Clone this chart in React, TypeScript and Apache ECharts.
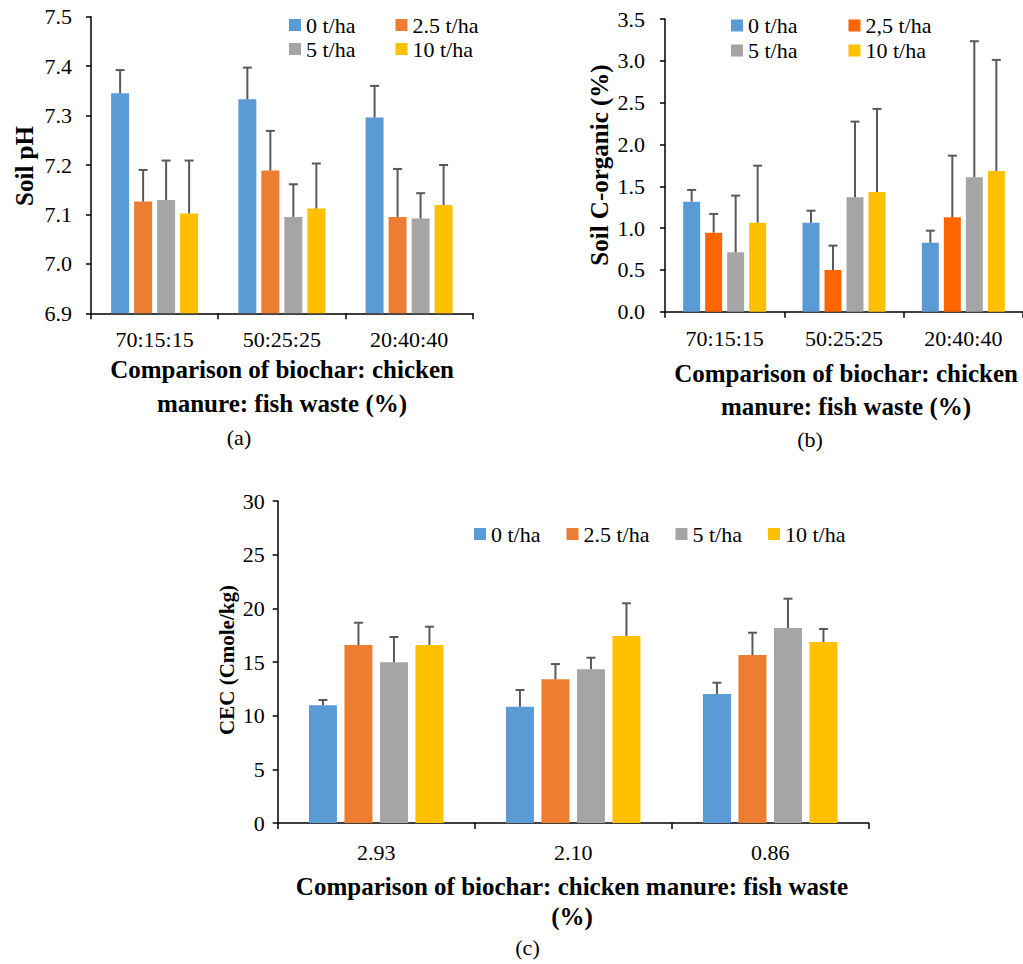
import React, { useEffect, useRef } from "react";
import * as echarts from "echarts";

// ---------- data ----------
const categoriesAB = ["70:15:15", "50:25:25", "20:40:40"];
const categoriesC = ["2.93", "2.10", "0.86"];

const seriesNamesA = ["0 t/ha", "2.5 t/ha", "5 t/ha", "10 t/ha"];
const seriesNamesB = ["0 t/ha", "2,5 t/ha", "5 t/ha", "10 t/ha"];
const seriesNamesC = ["0 t/ha", "2.5 t/ha", "5 t/ha", "10 t/ha"];

// (a) Soil pH
const ph0 = [7.345, 7.333, 7.296];
const ph25 = [7.126, 7.189, 7.095];
const ph5 = [7.129, 7.095, 7.092];
const ph10 = [7.102, 7.112, 7.119];
const ph0Err = [0.047, 0.064, 0.064];
const ph25Err = [0.064, 0.08, 0.097];
const ph5Err = [0.08, 0.066, 0.051];
const ph10Err = [0.107, 0.091, 0.081];

// (b) Soil C-organic (%)
const co0 = [1.316, 1.065, 0.825];
const co25 = [0.945, 0.499, 1.129];
const co5 = [0.71, 1.368, 1.608];
const co10 = [1.065, 1.432, 1.683];
const co0Err = [0.14, 0.143, 0.144];
const co25Err = [0.224, 0.291, 0.737];
const co5Err = [0.678, 0.905, 1.626];
const co10Err = [0.681, 0.993, 1.328];

// (c) CEC (Cmole/kg)
const cec0 = [10.96, 10.84, 12.02];
const cec25 = [16.58, 13.39, 15.65];
const cec5 = [14.97, 14.32, 18.17];
const cec10 = [16.58, 17.42, 16.86];
const cec0Err = [0.5, 1.55, 1.05];
const cec25Err = [2.08, 1.42, 2.08];
const cec5Err = [2.36, 1.08, 2.73];
const cec10Err = [1.71, 3.05, 1.22];

const colorsA = ["#5B9BD5", "#ED7D31", "#A5A5A5", "#FFC000"];
const colorsB = ["#5B9BD5", "#FF6600", "#A5A5A5", "#FFC000"];

const FONT = "Liberation Serif";

function buildPanel(
  idx: number,
  names: string[],
  colors: string[],
  means: number[][],
  errs: number[][],
  barW: number,
  gapPx: number
) {
  const series: any[] = [];
  means.forEach((m, k) => {
    series.push({
      type: "bar",
      name: names[k],
      xAxisIndex: idx,
      yAxisIndex: idx,
      data: m,
      barWidth: barW,
      barGap: (gapPx / barW) * 100 + "%",
      itemStyle: { color: colors[k] },
      emphasis: { disabled: true },
      z: 2,
    });
  });
  means.forEach((m, k) => {
    series.push({
      type: "custom",
      xAxisIndex: idx,
      yAxisIndex: idx,
      data: m.map((v, i) => [i, v, v + errs[k][i]]),
      z: 5,
      silent: true,
      renderItem: (params: any, api: any) => {
        const p0 = api.coord([api.value(0), api.value(1)]);
        const p1 = api.coord([api.value(0), api.value(2)]);
        const x = p0[0] + (k - 1.5) * (barW + gapPx);
        const st = { stroke: "#595959", lineWidth: 2 };
        return {
          type: "group",
          children: [
            { type: "line", shape: { x1: x, y1: p0[1], x2: x, y2: p1[1] }, style: st },
            { type: "line", shape: { x1: x - 4.5, y1: p1[1], x2: x + 4.5, y2: p1[1] }, style: st },
          ],
        };
      },
    });
  });
  return series;
}

function xAxisCfg(idx: number, data: string[], margin: number) {
  return {
    type: "category",
    gridIndex: idx,
    data,
    boundaryGap: true,
    axisLine: { onZero: false, lineStyle: { color: "#000", width: 1.5 } },
    axisTick: { show: true, alignWithLabel: false, length: 6, lineStyle: { color: "#000", width: 1.5 } },
    axisLabel: { color: "#000", fontFamily: FONT, fontSize: 22, lineHeight: 22, margin },
  };
}

function yAxisCfg(idx: number, min: number, max: number, interval: number, dec: number, margin: number) {
  return {
    type: "value",
    gridIndex: idx,
    min,
    max,
    interval,
    splitLine: { show: false },
    axisLine: { show: true, lineStyle: { color: "#000", width: 1.5 } },
    axisTick: { show: true, length: 5, lineStyle: { color: "#000", width: 1.5 } },
    axisLabel: {
      color: "#000",
      fontFamily: FONT,
      fontSize: 22,
      margin,
      formatter: (v: number) => v.toFixed(dec),
    },
  };
}

function legendCfg(data: string[], left: number, top: number, gap: number) {
  return {
    data,
    left,
    top,
    padding: 0,
    itemGap: gap,
    itemWidth: 12,
    itemHeight: 12,
    icon: "rect",
    selectedMode: false,
    textStyle: { color: "#000", fontFamily: FONT, fontSize: 22, lineHeight: 22 },
  };
}

function txt(text: string, x: number, y: number, size: number, bold: boolean, rot = 0) {
  return {
    type: "text",
    x,
    y,
    rotation: rot,
    silent: true,
    style: {
      text,
      fill: "#000",
      fontFamily: FONT,
      fontSize: size,
      fontWeight: bold ? "bold" : "normal",
      textAlign: "center",
      textVerticalAlign: "middle",
    },
  };
}

export default function App() {
  const ref = useRef<HTMLDivElement>(null);
  useEffect(() => {
    if (!ref.current) return;
    const chart = echarts.init(ref.current, null, { renderer: "svg" });
    const option: any = {
      animation: false,
      backgroundColor: "#fff",
      grid: [
        { left: 91, top: 16.7, width: 381.7, height: 296.6 },
        { left: 665, top: 19, width: 366, height: 292.7 },
        { left: 277.7, top: 501, width: 591, height: 322 },
      ],
      xAxis: [
        xAxisCfg(0, categoriesAB, 15),
        xAxisCfg(1, categoriesAB, 16),
        xAxisCfg(2, categoriesC, 18),
      ],
      yAxis: [
        yAxisCfg(0, 6.9, 7.5, 0.1, 1, 19),
        yAxisCfg(1, 0, 3.5, 0.5, 1, 20),
        yAxisCfg(2, 0, 30, 5, 0, 13),
      ],
      legend: [
        legendCfg([seriesNamesA[0], seriesNamesA[1]], 289, 14, 40),
        legendCfg([seriesNamesA[2], seriesNamesA[3]], 289, 38, 40),
        legendCfg([seriesNamesB[0], seriesNamesB[1]], 731, 14.5, 51),
        legendCfg([seriesNamesB[2], seriesNamesB[3]], 731, 39.5, 51),
        legendCfg(seriesNamesC, 474, 523, 26),
      ],
      series: [
        ...buildPanel(0, seriesNamesA, colorsA, [ph0, ph25, ph5, ph10], [ph0Err, ph25Err, ph5Err, ph10Err], 18, 5),
        ...buildPanel(1, seriesNamesB, colorsB, [co0, co25, co5, co10], [co0Err, co25Err, co5Err, co10Err], 17, 5),
        ...buildPanel(2, seriesNamesC, colorsA, [cec0, cec25, cec5, cec10], [cec0Err, cec25Err, cec5Err, cec10Err], 28, 7.5),
      ],
      graphic: [
        txt("Soil pH", 24, 166, 25, true, Math.PI / 2),
        txt("Soil C-organic (%)", 599, 165, 25, true, Math.PI / 2),
        txt("CEC (Cmole/kg)", 227, 660, 21, true, Math.PI / 2),
        txt("Comparison of biochar: chicken", 282, 369, 25, true),
        txt("manure: fish waste (%)", 282, 403, 25, true),
        txt("(a)", 239, 437, 22, false),
        txt("Comparison of biochar: chicken", 846, 373, 25, true),
        txt("manure: fish waste (%)", 846, 406, 25, true),
        txt("(b)", 810, 439, 22, false),
        txt("Comparison of biochar: chicken manure: fish waste", 572, 886, 25, true),
        txt("(%)", 572, 916, 25, true),
        txt("(c)", 527.5, 947, 22, false),
      ],
    };
    chart.setOption(option);
    return () => chart.dispose();
  }, []);
  return (
    <div
      ref={ref}
      style={{ position: "absolute", left: 0, top: 0, width: 1023, height: 964, background: "#fff" }}
    />
  );
}
